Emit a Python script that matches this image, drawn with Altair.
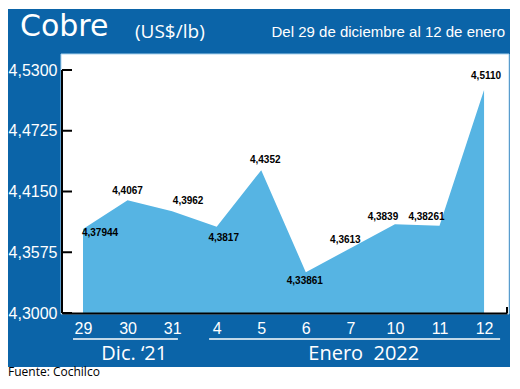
import altair as alt
import pandas as pd

# ---- data ----
days = ["29", "30", "31", "4", "5", "6", "7", "10", "11", "12"]
prices = [4.37944, 4.4067, 4.3962, 4.3817, 4.4352, 4.33861, 4.3613, 4.3839, 4.38261, 4.5110]
price_labels = ["4,37944", "4,4067", "4,3962", "4,3817", "4,4352", "4,33861", "4,3613", "4,3839", "4,38261", "4,5110"]
y_ticks = [4.3000, 4.3575, 4.4150, 4.4725, 4.5300]
groups = ["Dic. \u201821", "Enero\u00a0\u00a02022"]
title_main = "Cobre"
title_unit = "(US$/lb)"
title_period = "Del 29 de diciembre al 12 de enero"
source = "Fuente: Cochilco"

DARK = "#0b64a8"
LIGHT = "#56b4e3"
SANS = "Liberation Sans"
W, H = 445, 258

df = pd.DataFrame({"idx": list(range(len(days))), "value": prices, "lab": price_labels})
ticks_df = pd.DataFrame({"tick": y_ticks})
one = pd.DataFrame({"k": [0]})

xscale = alt.Scale(domain=[-0.4713, 9.515], nice=False, zero=False)
yscale = alt.Scale(domain=[4.3, 4.5442], nice=False, zero=False)

label_expr_x = "[" + ",".join("'%s'" % d for d in days) + "][datum.value]"

# background frame
frame = alt.Chart(one).mark_rect(color=DARK).encode(
    x=alt.value(-57), x2=alt.value(448), y=alt.value(-46), y2=alt.value(312))
white = alt.Chart(one).mark_rect(color="white", stroke="#a9d3ef", strokeWidth=1).encode(
    x=alt.value(-1), x2=alt.value(447), y=alt.value(-1), y2=alt.value(259))

area = alt.Chart(df).mark_area(color=LIGHT, opacity=1).encode(
    x=alt.X("idx:Q", scale=xscale, axis=alt.Axis(
        values=list(range(len(days))), labelExpr=label_expr_x, title=None, grid=False,
        ticks=False, domain=True, domainColor="black", domainWidth=2,
        labelColor="white", labelFontSize=16, labelFont=SANS, labelPadding=15,
        labelBaseline="middle", labelFlush=False, zindex=2)),
    y=alt.Y("value:Q", scale=yscale, axis=alt.Axis(
        values=y_ticks, labelExpr="replace(format(datum.value, '.4f'), '.', ',')",
        title=None, grid=False, ticks=False, domain=False, labelColor="white",
        labelFontSize=16, labelFont=SANS, labelPadding=5, zindex=2)),
    y2=alt.datum(4.3),
)

yline = alt.Chart(one).mark_rule(color="black", strokeWidth=2).encode(
    x=alt.value(0), y=alt.datum(4.53), y2=alt.datum(4.3))
yticks = alt.Chart(ticks_df).mark_rule(color="black", strokeWidth=2).encode(
    y=alt.Y("tick:Q", scale=yscale), x=alt.value(0), x2=alt.value(10))
xend = alt.Chart(one).mark_rule(color="black", strokeWidth=2).encode(
    x=alt.value(W), y=alt.value(H - 6), y2=alt.value(H))

offsets = [(17, 4), (0, -9), (16, -10), (7, 11), (4, -10), (-1, 9), (-5, -8), (-12, -7), (-13, -9), (2, -14)]
label_layers = []
for i, (dx, dy) in enumerate(offsets):
    label_layers.append(
        alt.Chart(df).transform_filter(alt.datum.idx == i).mark_text(
            dx=dx, dy=dy, align="center", baseline="middle", font=SANS,
            fontSize=10, fontWeight="bold", color="black").encode(
            x=alt.X("idx:Q", scale=xscale), y=alt.Y("value:Q", scale=yscale), text="lab:N"))

under_df = pd.DataFrame({"a": [-0.224, 2.83], "b": [2.13, 9.36], "c": [1.15, 6.3], "g": groups})
underlines = alt.Chart(under_df).mark_rule(color="white", strokeWidth=1.5).encode(
    x=alt.X("a:Q", scale=xscale), x2="b:Q", y=alt.value(284))
group_text = alt.Chart(under_df).mark_text(
    color="white", fontSize=20, font="Open Sans, Noto Sans, sans-serif", baseline="middle").encode(
    x=alt.X("c:Q", scale=xscale), y=alt.value(299), text="g:N")

t_main = alt.Chart(one).mark_text(text=title_main, color="white", fontSize=30,
    font="DejaVu Sans", align="left", baseline="alphabetic").encode(
    x=alt.value(-42), y=alt.value(-19))
t_unit = alt.Chart(one).mark_text(text=title_unit, color="white", fontSize=19,
    font="Open Sans, Noto Sans, sans-serif", align="left", baseline="alphabetic").encode(
    x=alt.value(73), y=alt.value(-17))
t_period = alt.Chart(one).mark_text(text=title_period, color="white", fontSize=15,
    font=SANS, align="right", baseline="alphabetic").encode(
    x=alt.value(443), y=alt.value(-18))
t_source = alt.Chart(one).mark_text(text=source, color="black", fontSize=12,
    font="Open Sans, Noto Sans, sans-serif", align="left", baseline="alphabetic").encode(
    x=alt.value(-54), y=alt.value(321))

chart = alt.layer(
    frame, white, area, yline, yticks, xend, *label_layers, underlines, group_text,
    t_main, t_unit, t_period, t_source
).properties(
    width=W, height=H,
    autosize=alt.AutoSizeParams(type="none"),
    padding={"left": 54, "top": 47, "right": 5, "bottom": 68},
    background="white",
).configure_view(stroke=None)

chart.save("out.html", embed_options={"renderer": "svg", "actions": False})
